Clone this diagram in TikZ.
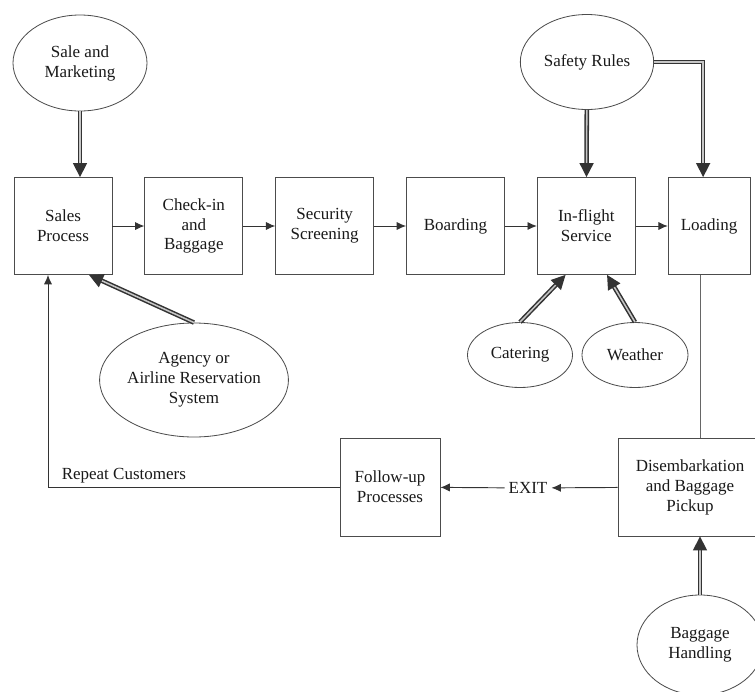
\documentclass[tikz,border=0pt]{standalone}
\usepackage{fontspec}
\setmainfont{Liberation Serif}
\usetikzlibrary{shapes.geometric, arrows.meta, positioning, calc}
\tikzstyle{process} = [rectangle, minimum width=2.94cm, minimum height=2.91cm, inner sep=0pt, text centered, align=center, draw=black!70, line width=0.7pt]
\tikzstyle{source} = [ellipse, inner sep=0pt, align=center, draw=black!70, line width=0.7pt]
\tikzstyle{arrow} = [draw=black!80, line width=0.8pt, -{Latex[length=8pt,width=7pt]}]
\tikzstyle{link} = [draw=black!60, line width=0.7pt]
\tikzstyle{feed} = [draw=black!80, line width=1.3pt, double=gray!45, double distance=1.3pt, -{Triangle[length=12pt,width=12pt]}]

\begin{document}
\begin{tikzpicture}[x=0.03cm, y=-0.03cm, node distance=0.96cm, font=\fontsize{14.5}{17}\selectfont, text=black!90]
\useasboundingbox (0,0) rectangle (755,691);
% main row of processes
\node (sales)    [process] at (63,226)       {Sales\\Process};
\node (checkin)  [process, right=of sales]    {Check-in\\and\\Baggage};
\node (security) [process, right=of checkin]  {Security\\Screening};
\node (boarding) [process, right=of security] {Boarding};
\node (inflight) [process, right=of boarding] {In-flight\\Service};
\node (loading)  [process, right=of inflight, minimum width=2.46cm] {Loading};
% inputs
\node (sale)     [source, minimum width=4.02cm, minimum height=2.88cm] at (80,63)   {Sale and\\Marketing};
\node (safety)   [source, minimum width=4cm, minimum height=2.85cm]    at (587,62)  {Safety Rules};
\node (agency)   [source, minimum width=5.55cm, minimum height=3.42cm] at (194,380) {Agency or\\Airline Reservation\\System};
\node (catering) [source, minimum width=3.15cm, minimum height=1.95cm] at (520,355) {Catering};
\node (weather)  [source, minimum width=3.18cm, minimum height=1.95cm] at (635,355) {Weather};
% return leg
\node (disembark) [process, minimum width=4.32cm, minimum height=2.94cm] at (690,487) {Disembarkation\\and Baggage\\Pickup};
\node (followup)  [process, minimum width=3cm, minimum height=2.94cm]    at (390,487) {Follow-up\\Processes};
\node (exit) at (528,488) {EXIT};
\node (baggage)  [source, minimum width=3.78cm, minimum height=3cm] at (700,645) {Baggage\\Handling};

\draw [arrow] (sales) -- (checkin);
\draw [arrow] (checkin) -- (security);
\draw [arrow] (security) -- (boarding);
\draw [arrow] (boarding) -- (inflight);
\draw [arrow] (inflight) -- (loading);
\draw [link] (baggage.north |- loading.south) -- (baggage.north |- disembark.north);
\draw [arrow] (disembark) -- (exit);
\draw [arrow] (exit) -- (followup);
\draw [arrow] (followup.west) -| node [above, pos=0.37] (repeat) {Repeat Customers} ($(sales.south)+(-15,0)$);

\draw [feed] (sale.south) -- (sale.south |- sales.north);
\draw [feed] (safety) -- (inflight);
\draw [feed] (safety.east) -| ($(loading.north)+(-6,0)$);
\draw [feed] (catering.north) -- (inflight.-113);
\draw [feed] (weather.north) -- (inflight.-67);
\draw [feed] (agency.north) -- (sales.-62);
\draw [feed] (baggage.north) -- (baggage.north |- disembark.south);
\end{tikzpicture}
\end{document}
